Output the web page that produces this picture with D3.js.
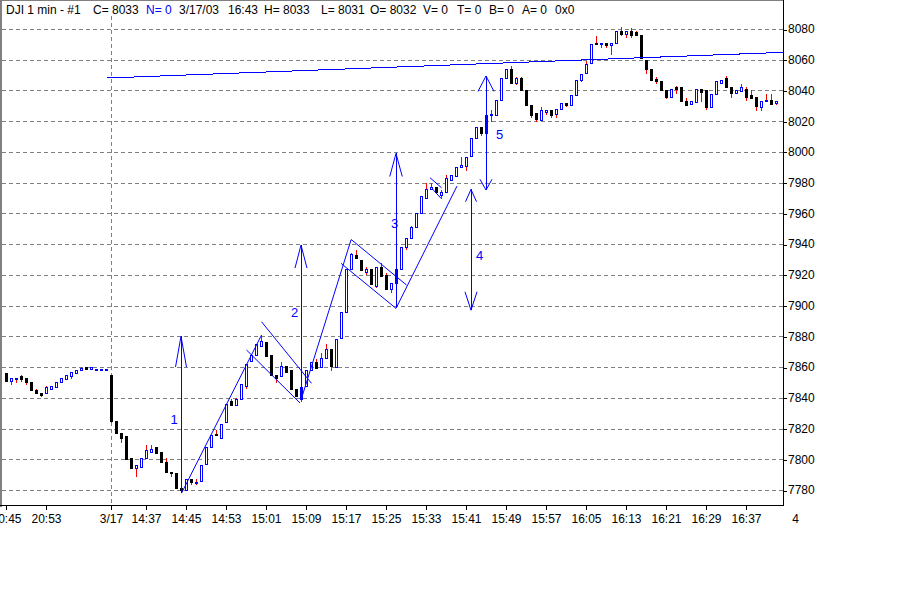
<!DOCTYPE html>
<html><head><meta charset="utf-8">
<script src="https://cdn.jsdelivr.net/npm/d3@7"></script>
<style>
body{margin:0;background:#fff;}
svg{display:block;font-family:"Liberation Sans",Arial,sans-serif;}
</style>
</head><body>
<svg id="chart" width="924" height="600"></svg>
<script>
// ---- DATA (1-minute bars; index 0..20 = previous session 20:45-21:05, 21..154 = 3/17 14:30-16:43)
const opens = [
7856,7851,7852,7854,7853,7850,7845,7843,7843,7846,7847,7850,7852,7854,7856,7858,7860,7859,7859,7859,7859,
7855,7825,7817,7815,7801,7794,7795,7801,7805,7808,7805,7798,7792,7791,7781,7780,7787,7785,7786,7797,
7808,7816.5,7814,7824,7838,7835,7839,7848,7864,7868,7874,7876,7868,7855,7854,7861,7858,7846,7839,7848,
7858,7863.5,7860,7866,7872,7860,7879,7896,7924,7933,7930,7922,7924,7913,7925,7920,7911,7915,7924,7938,
7944,7951,7960,7970,7976,7977,7972,7974,7982,7984.5,7990,7991,7997.5,8009,8016,8012,8024,8024,8034,8048,
8054,8045,8048,8040,8030.5,8025.5,8021,8026,8027,8025,8028,8032,8030.5,8037,8047,8051.5,8058,8071,8070,8071,
8069.5,8071,8079,8077,8079,8078,8076,8060,8054,8047.5,8046,8040,8036,8042,8042,8033,8031,8032.5,8041,8040,
8029.5,8038,8045,8048,8042,8038.5,8039.5,8041,8037,8035.5,8029.5,8033,8033.5,8032];
const highs = [
7856,7853,7853,7855,7853,7850,7846,7843,7848,7848,7850,7853,7855,7857,7858,7860,7860,7860,7859,7859,7859,
7855,7825,7817,7815,7801,7796,7801,7809,7809.5,7808,7805,7801,7792,7791,7781,7787,7787,7787,7796,7808,
7816,7819,7823,7836,7839,7840,7849,7862,7868,7875,7881,7876,7868,7855,7863.5,7861,7858,7846,7847,7858,
7863,7865,7869,7875,7872,7878,7896,7924,7934,7936,7930,7925,7924,7925,7927.5,7921,7915,7924,7938,7944,
7952,7960,7971,7979.5,7980,7977,7975,7985,7985,7990,7997,7997,8009,8016,8016,8024,8027,8034,8048,8054,
8056,8049,8049,8040,8030.5,8025.5,8029,8027,8027,8027.7,8032,8032,8037,8047,8051,8059,8070.5,8075.5,8071,8071,
8071,8079,8081,8079,8080.5,8078.5,8076,8060,8054,8049,8046,8040,8041,8043,8042,8035,8033,8041,8041,8040,
8038,8046,8047,8049.5,8042,8040,8044.5,8042.5,8040,8035.5,8033,8037.5,8037.5,8033];
const lows = [
7851,7849,7850,7851,7849,7845,7843,7841,7843,7846,7847,7850,7852,7853,7856,7858,7859,7859,7859,7859,7859,
7824,7817,7811,7800,7794,7789,7795,7801,7805,7804,7798,7792,7789,7781,7779,7780,7784,7784,7786,7797,
7808,7815.5,7814,7824,7835,7835,7839,7846.5,7864,7868,7874,7867,7855,7850,7854,7857,7846,7841,7838,7848,
7858,7859.5,7860,7866,7858,7860,7879,7896,7924,7931,7923,7920.5,7914,7912,7919,7911,7909,7915,7924,7937,
7944,7951,7960,7970,7976,7974,7970,7974,7982,7984.5,7990,7988,7997.5,8009,8011,8012,8020,8024,8034,8048,
8045,8044,8040,8030.5,8023,8020,8021,8024.5,8023,8023,8028,8030,8030.5,8037,8046.3,8051.5,8058,8070,8068,8068,
8064,8071,8076,8074.5,8074.5,8076,8061,8051.5,8047,8045,8040,8035,8036,8038.5,8033,8030.5,8031,8032.5,8033,8028,
8029.5,8038,8045,8042.5,8035.5,8038.5,8039.5,8034,8035,8027,8027,8033,8031,8031];
const closes = [
7851,7853,7853,7852,7850,7845,7843,7842,7847,7848,7850,7853,7855,7857,7858,7859.5,7859,7860,7859,7859,7859,
7825,7817,7814,7800,7794,7796,7801,7806,7807,7804,7798,7792,7791,7781,7780,7787,7785,7785,7796,7808,
7816,7815.5,7823,7836,7835,7839,7849,7862,7868,7875,7877,7867,7855,7853,7861,7857,7846,7841,7847,7858,
7863,7859.5,7866,7872,7861,7878,7896,7924,7933.5,7931,7923,7924,7914,7925,7919,7911,7915,7924,7938,7944,
7951,7960,7971,7976,7977,7974,7974,7983,7985,7990,7991.5,7997,8009,8016,8012,8024,8025,8034,8048,8054,
8045,8048,8040,8030.5,8024,8021.5,8027,8027,8024,8027.7,8032,8030.5,8037,8047,8051,8057.5,8070.5,8070,8071,8069.5,
8071,8079,8077,8079,8076,8076,8061,8054,8047,8046,8040,8036,8041,8041,8033,8030.5,8033,8041,8039,8029,
8038,8046,8047,8042.5,8038.5,8040,8042,8036,8035,8030,8033,8033.5,8031,8033];

const timeTickIndex = [0, 8, 21, 28, 36, 44, 52, 60, 68, 76, 84, 92, 100, 108, 116, 124, 132, 140, 148];
const timeTickLabels = ["20:45","20:53","3/17","14:37","14:45","14:53","15:01","15:09","15:17","15:25",
  "15:33","15:41","15:49","15:57","16:05","16:13","16:21","16:29","16:37"];
const edgeLabel = {index: 157.9, text: "4"};
const priceTicks = [7780,7800,7820,7840,7860,7880,7900,7920,7940,7960,7980,8000,8020,8040,8060,8080];
const sessionBreakIndex = 21;

// annotations in data units: [index, price]
const trendLine = [[20.2, 8048.1], [155.4, 8064.8]];
const patternLines = [
  [[35.1, 7777.9], [51.1, 7880.8]],
  [[51.1, 7889.5], [61.1, 7849.4]],
  [[48.1, 7871.1], [58.8, 7836.6]],
  [[59, 7838.6], [69, 7942.7]],
  [[69, 7943.1], [80.1, 7913.4]],
  [[67, 7927.5], [78, 7898.2]],
  [[78, 7898.2], [90.2, 7977.8]],
  [[84.8, 7983.2], [87.1, 7976.7]],
  [[85.3, 7975.8], [87.0, 7969.8]]
];
// arrows: index, from price, to price, heads (top/bottom: [length in price, half-width in index])
const arrows = [
  {i: 35, lo: 7778, hi: 7880, top: [20, 1.1], bottom: null},
  {i: 59, lo: 7838.6, hi: 7939.4, top: [15, 1.2], bottom: null},
  {i: 78, lo: 7898.2, hi: 7999, top: [15, 1.25], bottom: null},
  {i: 93, lo: 7897, hi: 7975.6, top: [8, 1.1], bottom: [12, 1.2]},
  {i: 96, lo: 7975.2, hi: 8049.4, top: [10, 1.6], bottom: [7, 1.2]}
];
const waveLabels = [
  {i: 33.6, p: 7826.2, t: "1"},
  {i: 57.7, p: 7895.8, t: "2"},
  {i: 77.7, p: 7953.7, t: "3"},
  {i: 94.7, p: 7932.9, t: "4"},
  {i: 98.7, p: 8011.6, t: "5"}
];
const header = [
  {t: "DJI 1 min - #1", x: 6, c: "#000"},
  {t: "C= 8033", x: 93, c: "#000"},
  {t: "N= 0", x: 146, c: "#0000ff"},
  {t: "3/17/03", x: 179, c: "#000"},
  {t: "16:43", x: 228, c: "#000"},
  {t: "H= 8033", x: 264, c: "#000"},
  {t: "L= 8031", x: 321, c: "#000"},
  {t: "O= 8032", x: 370, c: "#000"},
  {t: "V= 0", x: 423, c: "#000"},
  {t: "T= 0", x: 457, c: "#000"},
  {t: "B= 0", x: 489, c: "#000"},
  {t: "A= 0", x: 522, c: "#000"},
  {t: "0x0", x: 555, c: "#000"}
];

// ---- LAYOUT
const plotLeft = 2, plotRight = 783, plotBottom = 505;
const x = d3.scaleLinear().domain([0, 154]).range([6, 776]);
const y = d3.scaleLinear().domain([7780, 8080]).range([490, 29]);
const BLUE = "#0000ff", RED = "#ff0000", GRID = "#808080";

const svg = d3.select("#chart");
svg.append("rect").attr("width", 924).attr("height", 600).attr("fill", "#fff");

// frame
const frame = svg.append("g").attr("shape-rendering", "crispEdges");
frame.append("rect").attr("x", 0).attr("y", 0).attr("width", 2).attr("height", plotBottom + 2).attr("fill", GRID);
frame.append("line").attr("x1", 0).attr("x2", plotRight).attr("y1", 0.5).attr("y2", 0.5).attr("stroke", GRID);

// grid
const grid = svg.append("g").attr("shape-rendering", "crispEdges");
grid.selectAll("line.h").data(priceTicks).join("line").attr("class", "h")
  .attr("x1", plotLeft).attr("x2", plotRight)
  .attr("y1", d => Math.round(y(d)) + 0.5).attr("y2", d => Math.round(y(d)) + 0.5)
  .attr("stroke", GRID).attr("stroke-dasharray", "4,3");
grid.append("line")
  .attr("x1", x(sessionBreakIndex) + 0.5).attr("x2", x(sessionBreakIndex) + 0.5)
  .attr("y1", 16).attr("y2", plotBottom)
  .attr("stroke", GRID).attr("stroke-dasharray", "4,3");

// candles
const bars = opens.map((o, i) => ({i, o, h: highs[i], l: lows[i], c: closes[i]}));
const cg = svg.append("g").attr("shape-rendering", "crispEdges");
bars.forEach(b => {
  const cx = Math.round(x(b.i));
  const yo = y(b.o), yc = y(b.c);
  const top = Math.round(Math.min(yo, yc));
  let bot = Math.round(Math.max(yo, yc));
  const yh = Math.round(y(b.h)), yl = Math.round(y(b.l));
  const up = b.c >= b.o;
  if (yh < top) cg.append("line").attr("x1", cx + 0.5).attr("x2", cx + 0.5).attr("y1", yh).attr("y2", top).attr("stroke", RED);
  if (yl > bot) cg.append("line").attr("x1", cx + 0.5).attr("x2", cx + 0.5).attr("y1", bot + 1).attr("y2", yl + 1).attr("stroke", RED);
  if (up) {
    const hgt = Math.max(bot - top, 1);
    cg.append("rect").attr("x", cx - 0.5).attr("y", top + 0.5).attr("width", 2).attr("height", hgt)
      .attr("fill", "#fff").attr("stroke", BLUE).attr("stroke-width", 1);
  } else {
    cg.append("rect").attr("x", cx - 1).attr("y", top).attr("width", 3).attr("height", Math.max(bot - top + 1, 2))
      .attr("fill", "#000");
  }
});

// annotations
const ag = svg.append("g").attr("stroke", BLUE).attr("fill", "none").attr("stroke-width", 1);
const ln = d3.line().x(d => x(d[0])).y(d => y(d[1]));
ag.append("path").attr("d", ln(trendLine)).attr("shape-rendering", "crispEdges");
patternLines.forEach(p => ag.append("path").attr("d", ln(p)));
arrows.forEach(a => {
  ag.append("line").attr("x1", Math.round(x(a.i)) + 0.5).attr("x2", Math.round(x(a.i)) + 0.5)
    .attr("y1", y(a.lo)).attr("y2", y(a.hi)).attr("shape-rendering", "crispEdges");
  if (a.top) ag.append("path").attr("d", ln([[a.i - a.top[1], a.hi - a.top[0]], [a.i, a.hi], [a.i + a.top[1], a.hi - a.top[0]]]));
  if (a.bottom) ag.append("path").attr("d", ln([[a.i - a.bottom[1], a.lo + a.bottom[0]], [a.i, a.lo], [a.i + a.bottom[1], a.lo + a.bottom[0]]]));
});
svg.append("g").selectAll("text").data(waveLabels).join("text")
  .attr("x", d => x(d.i)).attr("y", d => y(d.p)).attr("dy", "0.36em")
  .attr("text-anchor", "middle").attr("font-size", 13).attr("fill", BLUE).text(d => d.t);

// axes
const axg = svg.append("g").attr("shape-rendering", "crispEdges");
axg.append("line").attr("x1", plotRight + 0.5).attr("x2", plotRight + 0.5).attr("y1", 0).attr("y2", plotBottom + 1).attr("stroke", "#000");
axg.append("line").attr("x1", 0).attr("x2", plotRight + 1).attr("y1", plotBottom + 0.5).attr("y2", plotBottom + 0.5).attr("stroke", "#000");

const yAxis = d3.axisRight(y).tickValues(priceTicks).tickSize(4).tickPadding(1).tickFormat(d3.format("d"));
const yg = svg.append("g").attr("transform", `translate(${plotRight},0)`).call(yAxis);
yg.select(".domain").remove();
yg.selectAll("text").attr("font-size", 12).attr("font-family", "Liberation Sans, Arial, sans-serif").attr("fill", "#000");
yg.selectAll("line").attr("shape-rendering", "crispEdges").attr("transform", "translate(0,0.5)");

const xAxis = d3.axisBottom(x).tickValues(timeTickIndex).tickSize(5).tickPadding(4.5)
  .tickFormat((d, k) => timeTickLabels[k]);
const xg = svg.append("g").attr("transform", `translate(0,${plotBottom})`).call(xAxis);
xg.select(".domain").remove();
xg.selectAll("text").attr("font-size", 12).attr("font-family", "Liberation Sans, Arial, sans-serif").attr("fill", "#000");
xg.selectAll("line").attr("shape-rendering", "crispEdges");
svg.append("text").attr("x", x(edgeLabel.index)).attr("y", 523).attr("text-anchor", "middle")
  .attr("font-size", 12).attr("fill", "#000").text(edgeLabel.text);

// header
svg.append("g").selectAll("text").data(header).join("text")
  .attr("x", d => d.x).attr("y", 14).attr("font-size", 12).attr("fill", d => d.c).text(d => d.t);
</script>
</body></html>
